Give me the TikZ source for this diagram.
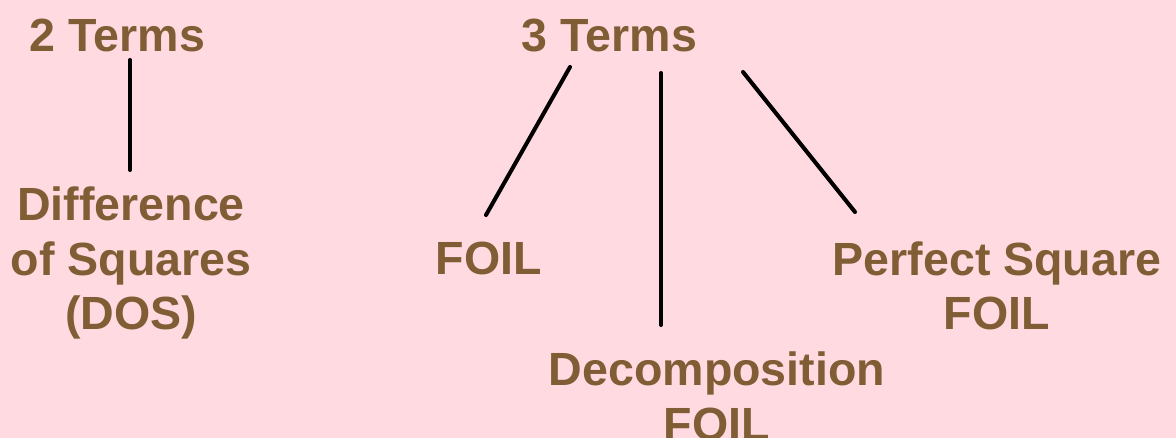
\documentclass[tikz,border=0pt]{standalone}
\usepackage{fontspec}
\setmainfont{Liberation Sans}
\usetikzlibrary{calc}
\definecolor{bgpink}{RGB}{255,219,225}
\definecolor{termbrown}{RGB}{128,93,52}
\tikzset{
	lbl/.style={font=\fontsize{26.5}{31.3}\selectfont\bfseries, text=termbrown, align=center, inner sep=0pt, anchor=base},
	link/.style={line width=2.3pt, line cap=round, black}
}

\begin{document}
\begin{tikzpicture}[x=0.02cm, y=-0.02cm]
	\fill[bgpink] (0,0) rectangle (1176,438);
	\useasboundingbox (0,0) rectangle (1176,438);

	% top row
	\node[lbl] (t2) at (117.5,52) {2 Terms};
	\node[lbl] (t3) at (609.5,52) {3 Terms};

	% methods (base = last line)
	\node[lbl] (dos) at (131,330) {Difference\\of Squares\\(DOS)};
	\node[lbl] (foil) at (489,275) {FOIL};
	\node[lbl] (psq) at (997,330) {Perfect Square\\FOIL};
	\node[lbl] (dec) at (717,440) {Decomposition\\FOIL};

	% links
	\coordinate (t2s) at ($(t2.base)+(12.5,8)$);
	\coordinate (doss) at ($(t2.base)+(12.5,118)$);
	\draw[link] (t2s) -- (doss);

	\coordinate (t3l) at ($(t3.base)+(-39.5,15)$);
	\coordinate (t3m) at ($(t3.base)+(51.5,21)$);
	\coordinate (t3r) at ($(t3.base)+(133.5,20)$);
	\coordinate (foiln) at ($(foil.base)+(-3,-60)$);
	\coordinate (decn) at ($(t3.base)+(51.5,273)$);
	\coordinate (psqn) at ($(psq.base)+(-142,-118)$);
	\draw[link] (t3l) -- (foiln);
	\draw[link] (t3m) -- (decn);
	\draw[link] (t3r) -- (psqn);
\end{tikzpicture}
\end{document}
